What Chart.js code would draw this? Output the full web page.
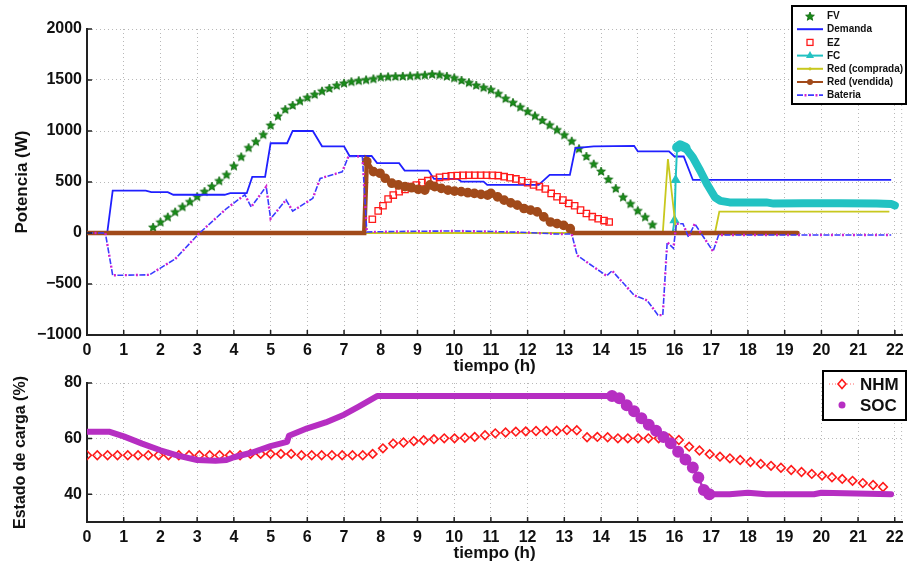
<!DOCTYPE html>
<html lang="es">
<head>
<meta charset="utf-8">
<title>Potencia y estado de carga</title>
<script src="https://cdn.jsdelivr.net/npm/chart.js@4.4.0/dist/chart.umd.min.js"></script>
<style>
  html, body { margin: 0; padding: 0; background: #fff; }
  #marco { position: relative; width: 908px; height: 564px; overflow: hidden; background: #fff; }
  canvas { position: absolute; left: 0; }
  #potencia { top: 0; }
  #carga { top: 366px; }
</style>
</head>
<body>
<div id="marco">
  <canvas id="potencia" width="908" height="378"></canvas>
  <canvas id="carga" width="908" height="198"></canvas>
</div>
<script>
// ---- ejes ----
const horasTicks = [0, 1, 2, 3, 4, 5, 6, 7, 8, 9, 10, 11, 12, 13, 14, 15, 16, 17, 18, 19, 20, 21, 22];
const potenciaTicks = [-1000, -500, 0, 500, 1000, 1500, 2000];
const cargaTicks = [40, 60, 80];

// ---- FV (W) ----
const fvHoras = [
  1.8, 2.0, 2.2, 2.4, 2.6, 2.8, 3.0, 3.2, 3.4, 3.6,
  3.8, 4.0, 4.2, 4.4, 4.6, 4.8, 5.0, 5.2, 5.4, 5.6,
  5.8, 6.0, 6.2, 6.4, 6.6, 6.8, 7.0, 7.2, 7.4, 7.6,
  7.8, 8.0, 8.2, 8.4, 8.6, 8.8, 9.0, 9.2, 9.4, 9.6,
  9.8, 10.0, 10.2, 10.4, 10.6, 10.8, 11.0, 11.2, 11.4, 11.6,
  11.8, 12.0, 12.2, 12.4, 12.6, 12.8, 13.0, 13.2, 13.4, 13.6,
  13.8, 14.0, 14.2, 14.4, 14.6, 14.8, 15.0, 15.2, 15.4];
const fvPotencia = [
  60, 110, 160, 210, 260, 310, 360, 410, 460, 515,
  575, 660, 750, 840, 900, 968, 1060, 1150, 1215, 1255,
  1298, 1332, 1362, 1395, 1422, 1450, 1472, 1487, 1497, 1505,
  1515, 1532, 1535, 1538, 1540, 1543, 1547, 1552, 1560, 1555,
  1540, 1524, 1500, 1478, 1452, 1430, 1409, 1370, 1322, 1282,
  1238, 1195, 1152, 1108, 1062, 1015, 965, 905, 830, 755,
  680, 608, 530, 440, 355, 290, 222, 160, 85];

// ---- Demanda (W) ----
const demandaHoras = [0, 0.55, 0.7, 1.6, 1.75, 2.2, 2.35, 3.75, 3.9, 4.35, 4.5, 4.85, 5.0, 5.45, 5.6, 6.15, 6.4, 7.0, 7.15, 7.75,
  7.9, 8.5, 8.65, 9.3, 9.45, 10.1, 10.2, 10.8, 10.9, 12.3, 12.6, 13.15, 13.3, 13.8, 14.9, 15.0, 15.85, 16.0, 16.25, 16.5, 21.9];
const demandaPotencia = [0, 0, 415, 415, 400, 400, 375, 375, 390, 390, 550, 550, 880, 880, 1000, 1000, 850, 850, 755, 755,
  685, 685, 612, 612, 530, 530, 503, 503, 471, 471, 570, 570, 833, 850, 855, 800, 800, 750, 750, 520, 520];

// ---- EZ (W) ----
const ezHoras = [7.77, 7.93, 8.06, 8.2, 8.34, 8.5, 8.66, 8.81, 8.97, 9.12,
  9.28, 9.44, 9.6, 9.77, 9.92, 10.08, 10.24, 10.4, 10.56, 10.72,
  10.88, 11.04, 11.2, 11.36, 11.52, 11.68, 11.84, 12.0, 12.16, 12.32,
  12.48, 12.64, 12.8, 12.96, 13.12, 13.28, 13.44, 13.6, 13.76, 13.92,
  14.08, 14.22];
const ezPotencia = [135, 217, 267, 333, 372, 405, 428, 454, 471, 494,
  513, 527, 546, 553, 560, 563, 565, 566, 566, 566,
  566, 565, 563, 552, 542, 530, 512, 494, 471, 454,
  431, 388, 355, 323, 290, 267, 224, 191, 160, 140,
  122, 108];

// ---- FC (W) ----
const fcHoras = [0, 15.95, 16.0, 16.03, 16.07, 16.15, 16.3, 16.5, 16.7, 16.9, 17.1, 17.25, 17.5, 18.5, 18.7, 19.5, 20.5, 21.5, 21.9, 22.0];
const fcPotencia = [0, 0, 125, 520, 840, 860, 835, 740, 610, 470, 350, 315, 300, 300, 288, 292, 292, 290, 285, 270];

// ---- Red comprada / vendida (W) ----
const compradaHoras = [0, 15.68, 15.82, 16.05, 17.1, 17.22, 21.85];
const compradaPotencia = [0, 0, 724, 0, 0, 210, 210];

const vendidaHoras = [0, 7.55, 7.62, 7.8, 7.98, 8.12, 8.3, 8.48, 8.66, 8.84,
  9.02, 9.2, 9.34, 9.47, 9.65, 9.83, 10.01, 10.19, 10.37, 10.55,
  10.73, 10.91, 11.0, 11.18, 11.36, 11.54, 11.72, 11.9, 12.08, 12.26,
  12.44, 12.62, 12.8, 12.98, 13.16, 13.25, 19.35];
const vendidaPotencia = [0, 0, 701, 602, 586, 537, 488, 471, 454, 444,
  428, 421, 471, 454, 438, 421, 411, 405, 395, 388,
  378, 372, 388, 355, 322, 296, 273, 240, 224, 207,
  158, 108, 92, 75, 42, 0, 0];

// ---- Bateria (W) ----
const bateriaHoras = [0, 0.5, 0.7, 1.7, 2.4, 3.05, 3.8, 4.3, 4.47, 4.88,
  5.0, 5.42, 5.6, 6.15, 6.35, 6.95, 7.12, 7.5, 7.62, 8.5,
  10.0, 11.0, 12.0, 12.8, 13.2, 13.35, 14.15, 14.3, 14.9, 15.25,
  15.55, 15.68, 15.8, 15.97, 16.05, 16.23, 16.38, 16.55, 17.05, 17.2,
  21.9];
const bateriaPotencia = [0, 0, -415, -410, -255, -5, 240, 375, 255, 455,
  140, 325, 215, 340, 535, 600, 750, 750, 10, 15,
  20, 15, 5, -10, -10, -220, -420, -370, -610, -660,
  -805, -805, -90, -150, 90, 90, -40, 90, -180, -20,
  -20];

// ---- Estado de carga (%) ----
const nhmHoras = [0, 0.28, 0.56, 0.83, 1.11, 1.39, 1.67, 1.95, 2.22, 2.5,
  2.78, 3.06, 3.34, 3.61, 3.89, 4.17, 4.45, 4.73, 5.0, 5.28,
  5.56, 5.84, 6.12, 6.39, 6.67, 6.95, 7.23, 7.51, 7.78, 8.06,
  8.34, 8.62, 8.9, 9.17, 9.45, 9.73, 10.01, 10.29, 10.56, 10.84,
  11.12, 11.4, 11.68, 11.95, 12.23, 12.51, 12.79, 13.07, 13.34, 13.62,
  13.9, 14.18, 14.46, 14.73, 15.01, 15.29, 15.57, 15.85, 16.12, 16.4,
  16.68, 16.96, 17.24, 17.51, 17.79, 18.07, 18.35, 18.63, 18.9, 19.18,
  19.46, 19.74, 20.02, 20.29, 20.57, 20.85, 21.13, 21.41, 21.68];
const nhmCarga = [54, 54, 54, 54, 54, 54, 54, 54, 54, 54,
  54, 54, 54, 54, 54, 54, 54.5, 54.5, 54.5, 54.5,
  54.5, 54, 54, 54, 54, 54, 54, 54, 54.5, 56.5,
  58.2, 58.6, 59.1, 59.4, 59.8, 60.1, 60.1, 60.3, 60.6, 61.2,
  61.9, 62.2, 62.5, 62.6, 62.75, 62.8, 62.8, 63.1, 63.0, 60.5,
  60.6, 60.5, 60.1, 60.1, 60.1, 60.1, 60.1, 60.1, 59.5, 57.1,
  55.7, 54.4, 53.5, 52.9, 52.3, 51.6, 50.9, 50.2, 49.5, 48.7,
  48.0, 47.3, 46.7, 46.1, 45.5, 44.8, 44.0, 43.3, 42.6];

const socHoras = [0, 0.6, 1.0, 1.5, 2.0, 2.5, 3.0, 3.5, 3.8, 4.0,
  4.5, 5.0, 5.45, 5.5, 6.0, 6.5, 7.0, 7.4, 7.9, 14.3,
  14.5, 14.7, 14.9, 15.1, 15.3, 15.5, 15.7, 15.9, 16.1, 16.3,
  16.5, 16.65, 16.8, 16.95, 17.5, 18.0, 18.5, 19.8, 20.0, 21.9];
const socCarga = [62.5, 62.5, 60.8, 58.2, 55.8, 53.8, 52.3, 52.0, 52.3, 53.3,
  55.0, 57.3, 58.8, 61.0, 63.7, 65.8, 68.6, 71.5, 75.3, 75.3,
  74.5, 72.0, 69.8, 67.3, 65.0, 62.8, 60.6, 58.3, 55.3, 52.5,
  49.6, 46.0, 41.5, 40.0, 40.0, 40.5, 40.0, 40.0, 40.5, 40.0];

const pares = (horas, valores) => horas.map((h, i) => ({ x: h, y: valores[i] }));

const fuente = "'Liberation Sans', Arial, Helvetica, sans-serif";
Chart.defaults.font.family = fuente;
Chart.defaults.font.weight = 'bold';
Chart.defaults.color = '#111';
Chart.defaults.animation = false;

function crearEstrella(r, relleno, borde) {
  const c = document.createElement('canvas');
  const s = Math.ceil(r * 2 + 2);
  c.width = s; c.height = s;
  const g = c.getContext('2d');
  g.beginPath();
  for (let i = 0; i < 10; i++) {
    const rad = i % 2 === 0 ? r : r * 0.45;
    const ang = -Math.PI / 2 + i * Math.PI / 5;
    g.lineTo(s / 2 + rad * Math.cos(ang), s / 2 + 0.6 + rad * Math.sin(ang));
  }
  g.closePath();
  g.fillStyle = relleno; g.fill();
  g.strokeStyle = borde; g.lineWidth = 0.8; g.stroke();
  return c;
}
const estrellaFV = crearEstrella(4.6, '#1a8c1a', '#0b650b');

const rejilla = { color: '#b8b8b8', lineWidth: 1, drawTicks: false };
const borde = { color: '#222', width: 2, dash: [1, 3] };
const numero = v => (v < 0 ? '\u2212' + Math.abs(v) : String(v));

function ejeX(alto, padTitulo) {
  return {
    type: 'linear', min: 0, max: 22.2,
    afterBuildTicks: s => { s.ticks = horasTicks.map(v => ({ value: v })); },
    afterFit: s => { s.height = alto; s.paddingLeft = 0; s.paddingRight = 0; },
    ticks: { font: { size: 16, weight: 'bold' }, padding: 6, maxRotation: 0, autoSkip: false, callback: numero },
    grid: rejilla,
    border: borde,
    title: { display: true, text: 'tiempo (h)', font: { size: 17, weight: 'bold' }, padding: { top: 0, bottom: padTitulo } }
  };
}
function ejeY(min, max, marcas, texto, tam, padTitulo) {
  return {
    type: 'linear', min, max,
    afterBuildTicks: s => { s.ticks = marcas.map(v => ({ value: v })); },
    afterFit: s => { s.width = 87; s.paddingTop = 0; s.paddingBottom = 0; },
    ticks: { font: { size: 16, weight: 'bold' }, padding: 5, callback: numero },
    grid: rejilla,
    border: borde,
    title: { display: true, text: texto, font: { size: tam, weight: 'bold' }, padding: { top: padTitulo, bottom: 0 } }
  };
}

// marcas hacia dentro y borde derecho punteado
const marcasInternas = {
  id: 'marcasInternas',
  afterDraw(chart) {
    const { ctx, chartArea: a, scales: { x, y } } = chart;
    ctx.save();
    ctx.strokeStyle = '#222';
    ctx.lineWidth = 1.5;
    ctx.beginPath();
    x.ticks.forEach(t => { const px = x.getPixelForValue(t.value); ctx.moveTo(px, a.bottom); ctx.lineTo(px, a.bottom - 5); });
    y.ticks.forEach(t => { const py = y.getPixelForValue(t.value); ctx.moveTo(a.left, py); ctx.lineTo(a.left + 5, py); });
    ctx.stroke();
    ctx.setLineDash([1, 3]);
    ctx.strokeStyle = '#b8b8b8';
    ctx.lineWidth = 1;
    ctx.beginPath();
    ctx.moveTo(a.right - 0.5, a.top);
    ctx.lineTo(a.right - 0.5, a.bottom);
    ctx.stroke();
    ctx.restore();
  }
};

function linea(ctx, x1, x2, y, color, ancho, dash, offset) {
  ctx.save();
  ctx.strokeStyle = color; ctx.lineWidth = ancho;
  ctx.setLineDash(dash || []);
  ctx.lineDashOffset = offset || 0;
  ctx.beginPath(); ctx.moveTo(x1, y); ctx.lineTo(x2, y); ctx.stroke();
  ctx.restore();
}

const leyendaPotencia = {
  id: 'leyendaPotencia',
  afterDraw(chart) {
    const ctx = chart.ctx;
    const x0 = 792, y0 = 6, w = 114, h = 98;
    const cx = 810, l1 = 797, l2 = 823;
    ctx.save();
    ctx.fillStyle = '#fff';
    ctx.fillRect(x0, y0, w, h);
    ctx.strokeStyle = '#000'; ctx.lineWidth = 2;
    ctx.strokeRect(x0, y0, w, h);
    ctx.font = 'bold 10px ' + fuente;
    ctx.textBaseline = 'middle';
    const textos = chart.data.datasets.map(d => d.label).filter(t => t);
    textos.forEach((texto, i) => {
      const y = y0 + 10 + i * 13.2;
      if (i === 0) {
        ctx.drawImage(estrellaFV, cx - estrellaFV.width / 2, y - estrellaFV.height / 2);
      } else if (i === 1) {
        linea(ctx, l1, l2, y, '#2020ff', 2);
      } else if (i === 2) {
        ctx.strokeStyle = '#ff1a1a'; ctx.lineWidth = 1.3;
        ctx.strokeRect(cx - 3, y - 3, 6, 6);
      } else if (i === 3) {
        linea(ctx, l1, l2, y, '#22c2c2', 2);
        ctx.fillStyle = '#22c2c2';
        ctx.beginPath(); ctx.moveTo(cx, y - 4.5); ctx.lineTo(cx + 4, y + 2.5); ctx.lineTo(cx - 4, y + 2.5); ctx.closePath(); ctx.fill();
      } else if (i === 4) {
        linea(ctx, l1, l2, y, '#c8c81e', 2);
        ctx.fillStyle = '#c8c81e';
        ctx.beginPath(); ctx.arc(cx, y, 1.6, 0, Math.PI * 2); ctx.fill();
      } else if (i === 5) {
        linea(ctx, l1, l2, y, '#a14a1a', 2);
        ctx.fillStyle = '#a14a1a';
        ctx.beginPath(); ctx.arc(cx, y, 3, 0, Math.PI * 2); ctx.fill();
      } else {
        linea(ctx, l1, l2, y, '#3a3aff', 1.8, [6, 5]);
        linea(ctx, l1, l2, y, '#d020d0', 2.4, [2, 9], -7.5);
      }
      ctx.fillStyle = '#111';
      ctx.fillText(texto, 827, y + 0.5);
    });
    ctx.restore();
  }
};

const leyendaCarga = {
  id: 'leyendaCarga',
  afterDraw(chart) {
    const ctx = chart.ctx;
    const x0 = 823, y0 = 5, w = 83, h = 49;
    const cx = 842;
    ctx.save();
    ctx.fillStyle = '#fff';
    ctx.fillRect(x0, y0, w, h);
    ctx.strokeStyle = '#000'; ctx.lineWidth = 2;
    ctx.strokeRect(x0, y0, w, h);
    ctx.font = 'bold 17px ' + fuente;
    ctx.textBaseline = 'middle';
    // NHM
    let y = 18;
    linea(ctx, 829, 856, y, 'rgba(255,40,40,0.7)', 1, [1, 2]);
    ctx.strokeStyle = '#ff1a1a'; ctx.lineWidth = 1.6; ctx.fillStyle = '#fff';
    ctx.beginPath(); ctx.moveTo(cx, y - 4.5); ctx.lineTo(cx + 4, y); ctx.lineTo(cx, y + 4.5); ctx.lineTo(cx - 4, y); ctx.closePath(); ctx.fill(); ctx.stroke();
    ctx.fillStyle = '#111';
    ctx.fillText(chart.data.datasets[0].label, 860, y + 1);
    // SOC
    y = 39;
    ctx.fillStyle = '#b62ec2';
    ctx.beginPath(); ctx.arc(cx, y, 3.5, 0, Math.PI * 2); ctx.fill();
    ctx.fillStyle = '#111';
    ctx.fillText(chart.data.datasets[1].label, 860, y + 1);
    ctx.restore();
  }
};

new Chart(document.getElementById('potencia'), {
  type: 'line',
  data: {
    datasets: [
      { label: 'FV', data: pares(fvHoras, fvPotencia), showLine: false, pointStyle: estrellaFV, pointRadius: 4, order: 7 },
      { label: 'Demanda', data: pares(demandaHoras, demandaPotencia), borderColor: '#2020ff', borderWidth: 1.8, pointRadius: 0, order: 6 },
      { label: 'EZ', data: pares(ezHoras, ezPotencia), showLine: false, pointStyle: 'rect', pointRadius: 4.5,
        pointBorderColor: '#ff1a1a', pointBackgroundColor: 'rgba(255,255,255,0)', pointBorderWidth: 1.3, order: 5 },
      { label: 'FC', data: pares(fcHoras, fcPotencia), borderColor: '#22c2c2', borderWidth: 2,
        segment: { borderWidth: c => (c.p0.parsed.x >= 16.3 ? 8 : (c.p0.parsed.x >= 16.05 ? 10 : 2)) },
        borderJoinStyle: 'round', borderCapStyle: 'round', pointStyle: 'triangle',
        pointRadius: c => (c.raw && c.raw.x > 15.97 && c.raw.x < 16.05 ? 4 : 0),
        pointBackgroundColor: '#22c2c2', pointBorderColor: '#22c2c2', order: 4 },
      { label: 'Red (comprada)', data: pares(compradaHoras, compradaPotencia), borderColor: '#c8c81e', borderWidth: 1.8, pointRadius: 0, order: 3 },
      { label: 'Red (vendida)', data: pares(vendidaHoras, vendidaPotencia), borderColor: '#a14a1a', borderWidth: 4.5,
        borderCapStyle: 'round',
        pointRadius: c => (c.raw && c.raw.y > 0 ? 2.6 : 0), pointBackgroundColor: '#a14a1a', pointBorderColor: '#a14a1a', order: 2 },
      { label: 'Bateria', data: pares(bateriaHoras, bateriaPotencia), borderColor: '#3a3aff', borderWidth: 1.6, borderDash: [6, 5], pointRadius: 0, order: 1 },
      { label: '', data: pares(bateriaHoras, bateriaPotencia), borderColor: '#d020d0', borderWidth: 2.4, borderDash: [2, 9], borderDashOffset: -7.5, pointRadius: 0, order: 0 }
    ]
  },
  options: {
    responsive: false,
    devicePixelRatio: 1,
    layout: { padding: { left: 0, right: 3, top: 29, bottom: 0 } },
    plugins: { legend: { display: false }, tooltip: { enabled: false } },
    scales: {
      x: ejeX(43, 1),
      y: ejeY(-1000, 2000, potenciaTicks, 'Potencia (W)', 17, 12)
    }
  },
  plugins: [marcasInternas, leyendaPotencia]
});

const socBajada = x => x >= 14.3 && x <= 16.95;

new Chart(document.getElementById('carga'), {
  type: 'line',
  data: {
    datasets: [
      { label: 'NHM', data: pares(nhmHoras, nhmCarga), borderColor: 'rgba(255,40,40,0.5)', borderWidth: 1, borderDash: [1, 3],
        pointStyle: 'rectRot', pointRadius: 4.3, pointBorderColor: '#ff1a1a', pointBackgroundColor: 'rgba(255,255,255,0)', pointBorderWidth: 1.6, order: 1 },
      { label: 'SOC', data: pares(socHoras, socCarga), borderColor: '#b62ec2', borderWidth: 6, borderJoinStyle: 'round', borderCapStyle: 'round',
        segment: { borderWidth: c => (socBajada(c.p0.parsed.x) && socBajada(c.p1.parsed.x) ? 2.5 : 6) },
        pointRadius: c => (c.raw && socBajada(c.raw.x) ? 3 : 0),
        pointBackgroundColor: '#b62ec2', pointBorderColor: '#b62ec2', order: 0 }
    ]
  },
  options: {
    responsive: false,
    devicePixelRatio: 1,
    layout: { padding: { left: 0, right: 3, top: 17, bottom: 0 } },
    plugins: { legend: { display: false }, tooltip: { enabled: false } },
    scales: {
      x: ejeX(42, 0),
      y: ejeY(30, 80, cargaTicks, 'Estado de carga (%)', 16, 11)
    }
  },
  plugins: [marcasInternas, leyendaCarga]
});
</script>
</body>
</html>
